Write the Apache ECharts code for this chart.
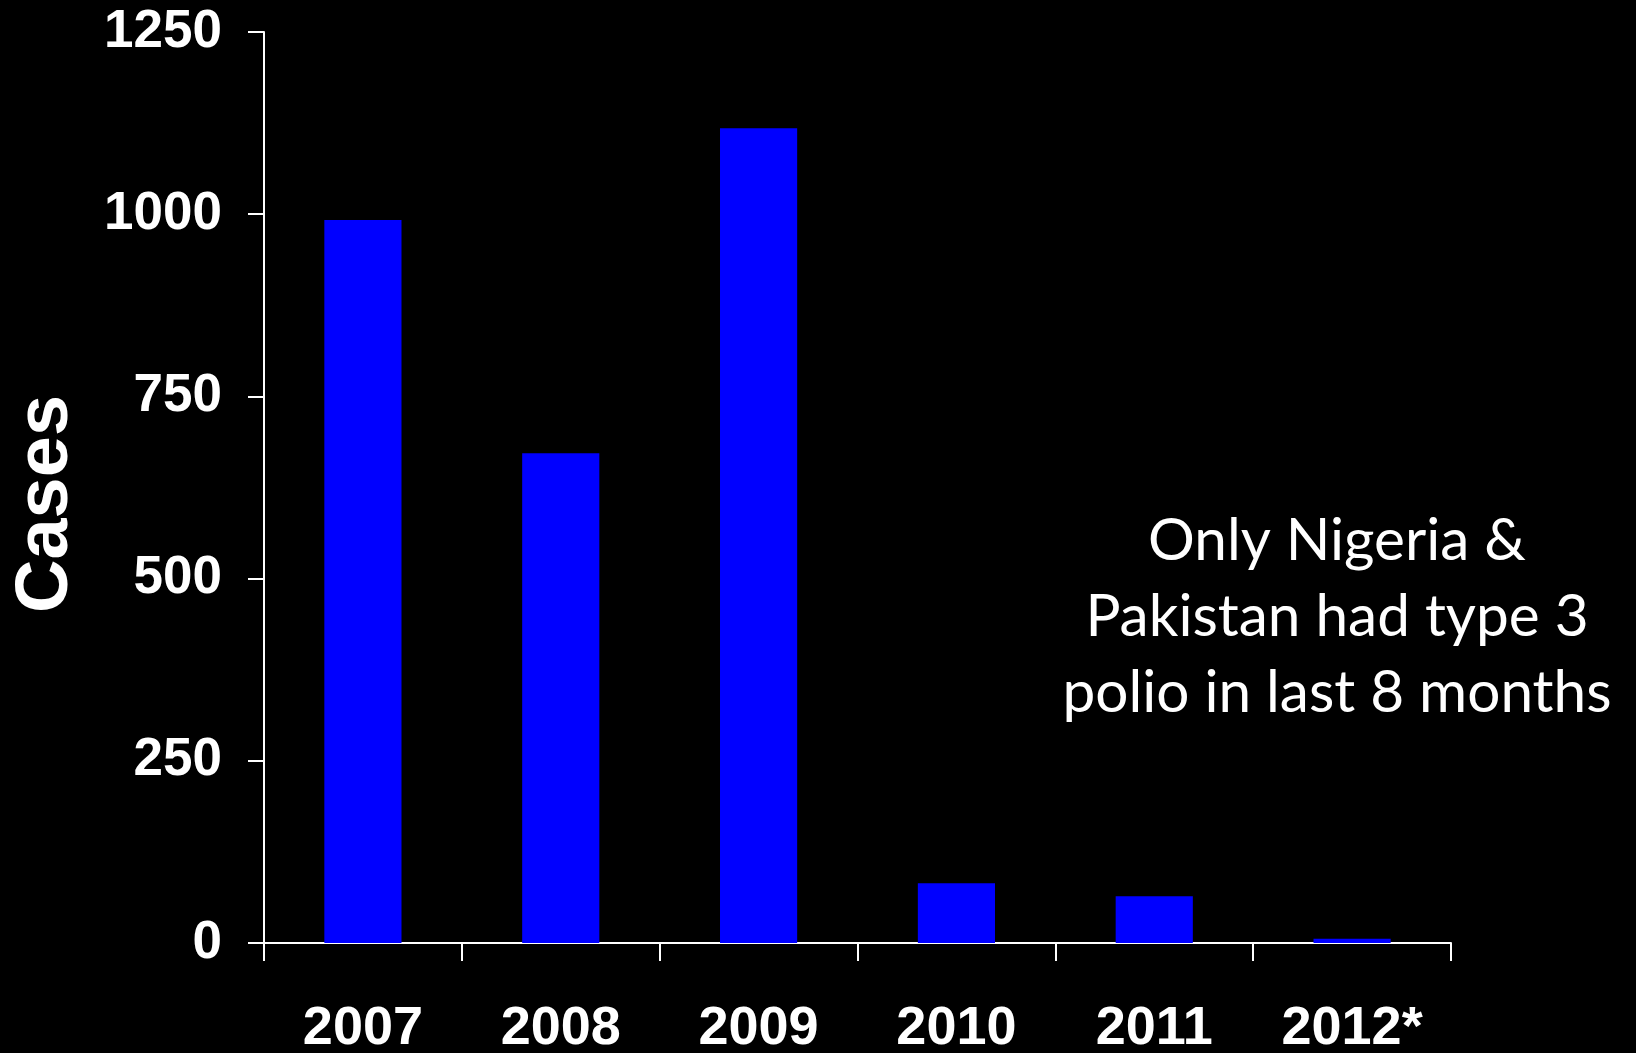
<!DOCTYPE html>
<html>
<head>
<meta charset="utf-8">
<script src="https://cdn.jsdelivr.net/npm/echarts@6/dist/echarts.min.js"></script>
<style>
html,body{margin:0;padding:0;background:#000;}
#chart{width:1636px;height:1053px;}
</style>
</head>
<body>
<div id="chart"></div>
<script>
const categories = ['2007', '2008', '2009', '2010', '2011', '2012*'];
const cases = [992, 672, 1118, 82, 64, 6];
const yTicks = { min: 0, max: 1250, interval: 250 };
const yTitle = 'Cases';
const note = 'Only Nigeria &\nPakistan had type 3\npolio in last 8 months';

const chart = echarts.init(document.getElementById('chart'));
chart.setOption({
  backgroundColor: '#000000',
  animation: false,
  grid: { left: 264, right: 185, top: 32, bottom: 110, containLabel: false, outerBoundsMode: 'none' },
  xAxis: {
    type: 'category',
    data: categories,
    axisLine: { lineStyle: { color: '#ffffff', width: 2 } },
    axisTick: { show: true, length: 18, interval: 0, lineStyle: { color: '#ffffff', width: 2 } },
    axisLabel: {
      color: '#ffffff', fontFamily: 'Liberation Sans, Arial, sans-serif',
      fontWeight: 'bold', fontSize: 54, margin: 59, interval: 0
    }
  },
  yAxis: {
    type: 'value',
    min: yTicks.min, max: yTicks.max, interval: yTicks.interval,
    splitLine: { show: false },
    axisLine: { show: true, lineStyle: { color: '#ffffff', width: 2 } },
    axisTick: { show: true, length: 16, lineStyle: { color: '#ffffff', width: 2 } },
    axisLabel: {
      color: '#ffffff', fontFamily: 'Liberation Sans, Arial, sans-serif',
      fontWeight: 'bold', fontSize: 53, margin: 42,
      formatter: function (v) { return String(v); }
    }
  },
  graphic: [
    {
      type: 'text', x: 47, y: 504, rotation: Math.PI / 2,
      style: {
        text: yTitle, fill: '#ffffff', fontFamily: 'Liberation Sans, Arial, sans-serif',
        fontWeight: 'bold', fontSize: 74, align: 'center', verticalAlign: 'middle'
      }
    },
    {
      type: 'text', x: 1337, y: 617,
      style: {
        text: note, fill: '#ffffff', fontFamily: 'Lato, sans-serif',
        fontSize: 58.5, lineHeight: 76, align: 'center', verticalAlign: 'middle'
      }
    }
  ],
  series: [{
    type: 'bar',
    data: cases,
    barWidth: '39%',
    itemStyle: { color: '#0000ff' }
  }]
});
</script>
</body>
</html>
